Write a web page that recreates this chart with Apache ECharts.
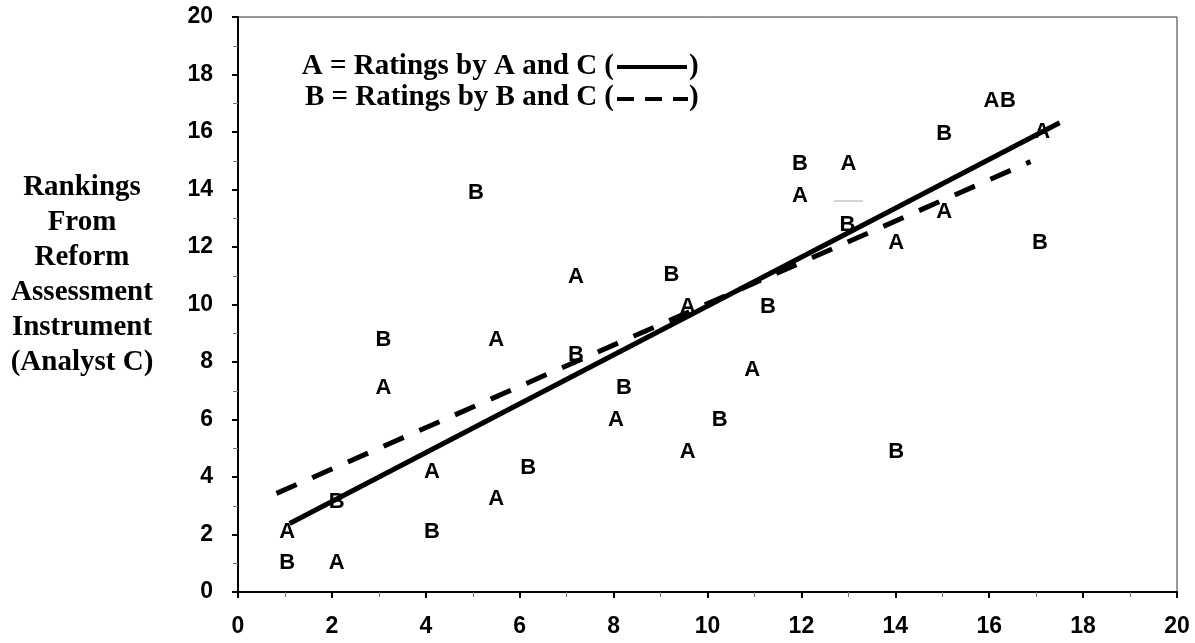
<!DOCTYPE html>
<html><head><meta charset="utf-8">
<script src="https://cdn.jsdelivr.net/npm/echarts@6/dist/echarts.min.js"></script>
<style>html,body{margin:0;padding:0;background:#fff}#c{width:1195px;height:643px}</style>
</head><body><div id="c"></div>
<script>
// Data (x = rating, y = ranking from instrument)
const pointsA = [[1.05,2.1],[2.1,1.0],[3.1,7.1],[4.13,4.18],[5.5,3.22],[5.5,8.77],[7.2,10.97],[8.05,5.98],[9.58,9.92],[9.58,4.88],[10.95,7.72],[11.97,13.77],[13.0,14.9],[14.02,12.13],[15.04,13.23],[16.05,17.08],[17.13,16.01]];
const pointsB = [[1.05,1.0],[2.1,3.14],[3.1,8.77],[4.13,2.1],[5.07,13.87],[6.18,4.33],[7.2,8.24],[8.22,7.1],[9.23,11.03],[10.26,5.98],[11.29,9.92],[11.97,14.9],[12.98,12.77],[14.02,4.88],[15.04,15.95],[16.4,17.08],[17.08,12.13]];
const fitA = [[1.1,2.38],[17.5,16.32]];
const fitB = [[0.82,3.43],[16.88,14.97]];
const grayMark = [[12.69,13.6],[13.31,13.6]];
const axisMin = 0, axisMax = 20, axisStep = 2;
const titleLines = ['Rankings','From','Reform','Assessment','Instrument','(Analyst C)'];
const legendLines = ['A = Ratings by A and C (','B = Ratings by B and C ('];

const sans = '"Liberation Sans", Arial, sans-serif';
const serifFont = 'bold 29px "Liberation Serif", "Times New Roman", serif';

function axisCfg(margin){
  return {
    type:'value', min:axisMin, max:axisMax, interval:axisStep,
    axisLine:{onZero:false, lineStyle:{color:'#000', width:2}},
    axisTick:{length:6, lineStyle:{color:'#000', width:2}},
    minorTick:{show:true, splitNumber:2, length:5, lineStyle:{color:'#777', width:1}},
    splitLine:{show:false}, minorSplitLine:{show:false},
    axisLabel:{fontFamily:sans, fontWeight:'bold', fontSize:23, color:'#000', margin:margin}
  };
}
function letterSeries(data, letter){
  return {type:'scatter', data:data, symbol:'circle', symbolSize:0, itemStyle:{color:'#000', opacity:1},
    silent:true, z:5,
    label:{show:true, position:'inside', formatter:letter, fontFamily:sans, fontWeight:'bold', fontSize:22,
      color:'#000', textBorderWidth:0, opacity:1}};
}
const chart = echarts.init(document.getElementById('c'));
chart.setOption({
  animation:false,
  grid:{left:238, right:18, top:17, bottom:51, show:true, borderColor:'#333', borderWidth:1},
  xAxis:axisCfg(23),
  yAxis:axisCfg(25),
  series:[
    {type:'line', data:fitA, symbol:'none', silent:true, lineStyle:{color:'#000', width:5}, z:3},
    {type:'line', data:fitB, symbol:'none', silent:true, lineStyle:{color:'#000', width:5, type:[22,17]}, z:3},
    {type:'line', data:grayMark, symbol:'none', silent:true, lineStyle:{color:'#aaa', width:1}, z:3},
    letterSeries(pointsA,'A'),
    letterSeries(pointsB,'B')
  ],
  graphic:[
    {type:'text', x:82, y:170, style:{text:titleLines.join('\n'), font:serifFont, align:'center', verticalAlign:'top', lineHeight:35, fill:'#000'}},
    {type:'text', x:614, y:67, style:{text:legendLines[0], font:serifFont, align:'right', verticalAlign:'middle', fill:'#000'}},
    {type:'line', shape:{x1:617,y1:67,x2:687,y2:67}, style:{stroke:'#000', lineWidth:4}},
    {type:'text', x:689, y:67, style:{text:')', font:serifFont, align:'left', verticalAlign:'middle', fill:'#000'}},
    {type:'text', x:614, y:98, style:{text:legendLines[1], font:serifFont, align:'right', verticalAlign:'middle', fill:'#000'}},
    {type:'line', shape:{x1:617,y1:99,x2:688,y2:99}, style:{stroke:'#000', lineWidth:4, lineDash:[17,11]}},
    {type:'text', x:689, y:98, style:{text:')', font:serifFont, align:'left', verticalAlign:'middle', fill:'#000'}}
  ]
});
</script></body></html>
